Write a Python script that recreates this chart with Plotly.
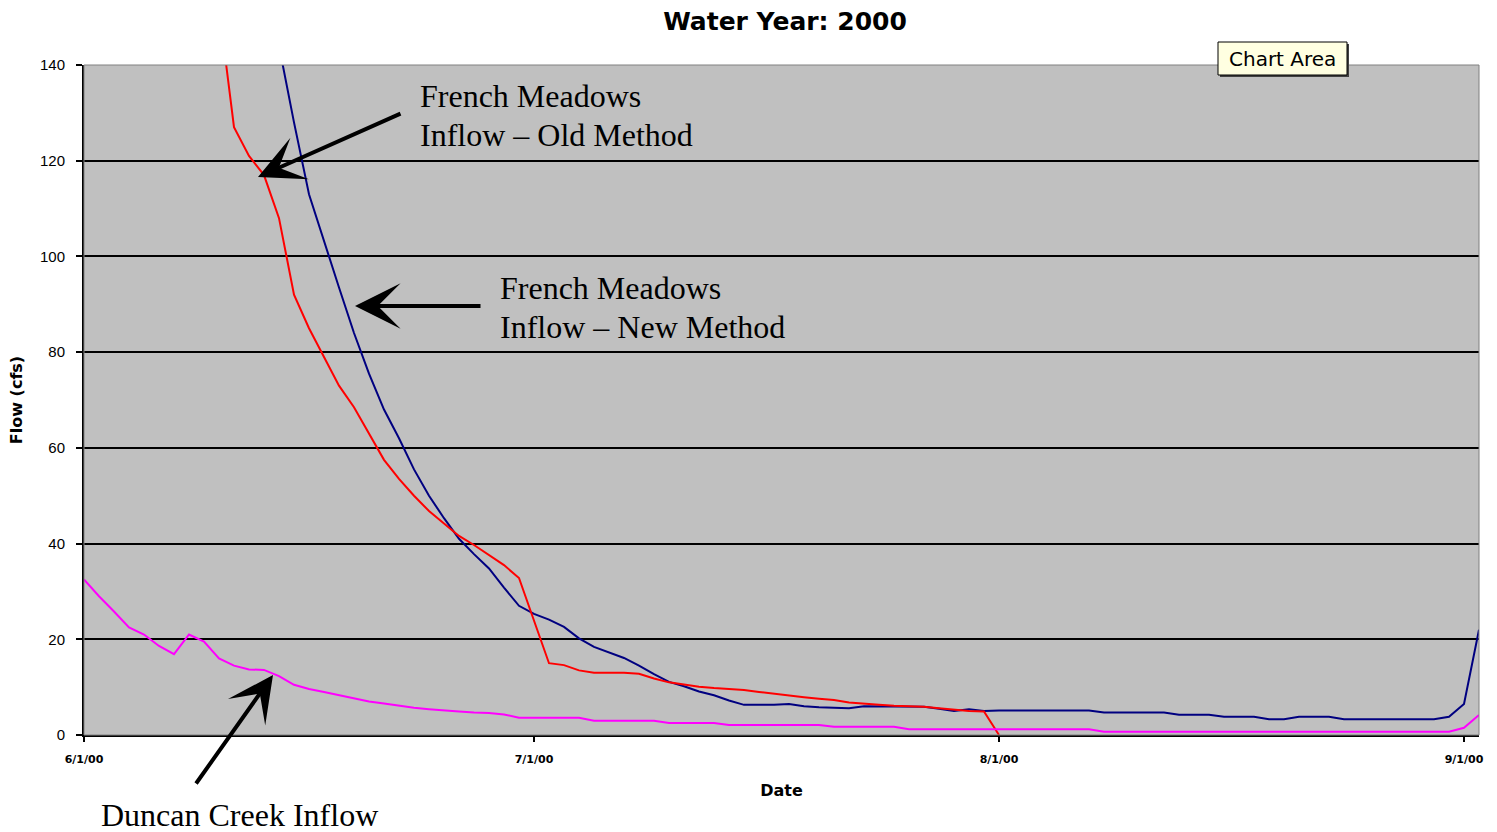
import pandas as pd
import plotly.graph_objects as go

# ---------------- data (daily values) ----------------
start_date = "2000-06-01"

old_method = [320, 300, 280, 262, 244, 226, 208, 190, 172, 152,
              127, 121, 117, 108, 92, 85, 79, 73, 68.5, 63,
              57.5, 53.5, 50, 46.8, 44.2, 41.6, 39.7, 37.6, 35.5, 32.8,
              24, 15, 14.6, 13.5, 13, 13, 13, 12.8, 11.8, 11,
              10.5, 10.1, 9.8, 9.6, 9.4, 9.0, 8.6, 8.2, 7.9, 7.6,
              7.3, 6.8, 6.5, 6.3, 6.1, 6.0, 5.9, 5.6, 5.3, 5.0,
              4.9, 0]

new_method = [360, 346, 332, 316, 300, 284, 266, 248, 230, 212,
              194, 176, 158, 144, 128, 113, 103, 93.5, 84, 75.5,
              68, 62, 55.5, 50, 45.3, 41, 37.8, 34.8, 30.8, 27,
              25.3, 24.1, 22.6, 20.2, 18.4, 17.3, 16.1, 14.5, 12.7, 11.1,
              10.2, 9.1, 8.3, 7.2, 6.3, 6.3, 6.3, 6.5, 6.0, 5.8,
              5.7, 5.6, 6.0, 6.0, 5.9, 5.9, 5.9, 5.5, 5.0, 5.4,
              5.0, 5.1, 5.1, 5.1, 5.1, 5.1, 5.1, 5.1, 4.7, 4.7,
              4.7, 4.7, 4.7, 4.25, 4.25, 4.25, 3.8, 3.8, 3.8, 3.3,
              3.3, 3.8, 3.8, 3.8, 3.3, 3.3, 3.3, 3.3, 3.3, 3.3,
              3.3, 3.8, 6.5, 22]

duncan_creek = [32.5, 29, 25.8, 22.5, 21, 18.6, 16.9, 21.0, 19.5, 16.0,
                14.5, 13.7, 13.6, 12.3, 10.5, 9.6, 9.0, 8.3, 7.6, 7.0,
                6.6, 6.1, 5.7, 5.4, 5.1, 4.9, 4.7, 4.6, 4.3, 3.6,
                3.6, 3.6, 3.6, 3.6, 3.0, 3.0, 3.0, 3.0, 3.0, 2.5,
                2.5, 2.5, 2.5, 2.1, 2.1, 2.1, 2.1, 2.1, 2.1, 2.1,
                1.7, 1.7, 1.7, 1.7, 1.7, 1.2, 1.2, 1.2, 1.2, 1.2,
                1.2, 1.2, 1.2, 1.2, 1.2, 1.2, 1.2, 1.2, 0.7, 0.7,
                0.7, 0.7, 0.7, 0.7, 0.7, 0.7, 0.7, 0.7, 0.7, 0.7,
                0.7, 0.7, 0.7, 0.7, 0.7, 0.7, 0.7, 0.7, 0.7, 0.7,
                0.7, 0.7, 1.5, 4.2]

tick_dates = ["2000-06-01", "2000-07-01", "2000-08-01", "2000-09-01"]
tick_labels = ["6/1/00", "7/1/00", "8/1/00", "9/1/00"]
y_ticks = [0, 20, 40, 60, 80, 100, 120, 140]

dates_old = pd.date_range(start_date, periods=len(old_method), freq="D")
dates_new = pd.date_range(start_date, periods=len(new_method), freq="D")
dates_dc = pd.date_range(start_date, periods=len(duncan_creek), freq="D")

# ---------------- layout geometry ----------------
W, H = 1497, 832
L, R, T, B = 84, 18, 65, 97
PW, PH = W - L - R, H - T - B


def px(x):
    return (x - L) / PW


def py(y):
    return (H - B - y) / PH


fig = go.Figure()
fig.add_trace(go.Scatter(x=dates_new, y=new_method, mode="lines",
                         line=dict(color="#000080", width=2),
                         name="French Meadows Inflow - New Method"))
fig.add_trace(go.Scatter(x=dates_old, y=old_method, mode="lines",
                         line=dict(color="#ff0000", width=2),
                         name="French Meadows Inflow - Old Method"))
fig.add_trace(go.Scatter(x=dates_dc, y=duncan_creek, mode="lines",
                         line=dict(color="#ff00ff", width=2),
                         name="Duncan Creek Inflow"))

serif = "Liberation Serif, Times New Roman, serif"
ann = []


def text_line(txt, x, y, size=32):
    ann.append(dict(text=txt, xref="paper", yref="paper", x=px(x), y=py(y),
                    xanchor="left", yanchor="middle", showarrow=False,
                    font=dict(family=serif, size=size, color="black")))


text_line("French Meadows", 418, 96)
text_line("Inflow – Old Method", 418, 135)
text_line("French Meadows", 498, 288)
text_line("Inflow – New Method", 498, 327)
text_line("Duncan Creek Inflow", 99, 815)


def arrow(head, tail):
    ann.append(dict(text="", xref="paper", yref="paper",
                    x=px(head[0]), y=py(head[1]),
                    axref="pixel", ayref="pixel",
                    ax=tail[0] - head[0], ay=tail[1] - head[1],
                    showarrow=True, arrowhead=3, arrowsize=1.9,
                    arrowwidth=4, arrowcolor="black", standoff=0))


arrow((258, 177), (402, 113))
arrow((355, 306), (482, 306))
arrow((273, 675), (195, 785))

# "Chart Area" tooltip
ann.append(dict(text="Chart Area", xref="paper", yref="paper",
                x=px(1282), y=py(59), xanchor="center", yanchor="middle",
                showarrow=False,
                font=dict(family="DejaVu Sans, Verdana, sans-serif", size=20, color="black")))

shapes = [
    dict(type="rect", xref="paper", yref="paper", x0=0, x1=1, y0=0, y1=1,
         line=dict(color="#808080", width=1), fillcolor="rgba(0,0,0,0)", layer="above"),
    dict(type="rect", xref="paper", yref="paper",
         x0=px(1220), x1=px(1349), y0=py(77), y1=py(44),
         line=dict(width=0), fillcolor="#404040", layer="above"),
    dict(type="rect", xref="paper", yref="paper",
         x0=px(1218), x1=px(1347), y0=py(75), y1=py(42),
         line=dict(color="black", width=1), fillcolor="#ffffe1", layer="above"),
]

fig.update_layout(
    width=W, height=H,
    margin=dict(l=L, r=R, t=T, b=B, pad=0),
    paper_bgcolor="white",
    plot_bgcolor="#c0c0c0",
    showlegend=False,
    title=dict(text="Water Year: 2000", x=785 / W, xanchor="center",
               y=1 - 21 / H, yanchor="middle",
               font=dict(family="DejaVu Sans, Verdana, sans-serif", size=25,
                         color="black", weight="bold")),
    xaxis=dict(type="date", range=["2000-06-01", "2000-09-02"],
               tickvals=tick_dates, ticktext=tick_labels,
               showgrid=False, zeroline=False,
               showline=True, linecolor="black", linewidth=2,
               ticks="outside", ticklen=5, tickwidth=2, tickcolor="black",
               ticklabelstandoff=8,
               tickfont=dict(family="DejaVu Sans, Verdana, sans-serif", size=11,
                             color="black", weight="bold"),
               title=dict(text="Date", standoff=20,
                          font=dict(family="DejaVu Sans, Verdana, sans-serif", size=16,
                                    color="black", weight="bold"))),
    yaxis=dict(range=[0, 140], tickvals=y_ticks,
               showgrid=True, gridcolor="black", gridwidth=1.5,
               zeroline=False,
               showline=True, linecolor="black", linewidth=2,
               ticks="outside", ticklen=6, tickwidth=2, tickcolor="black",
               ticklabelstandoff=8,
               tickfont=dict(family="Liberation Sans, Arial, sans-serif", size=15,
                             color="black"),
               title=dict(text="Flow (cfs)", standoff=13,
                          font=dict(family="DejaVu Sans, Verdana, sans-serif", size=16,
                                    color="black", weight="bold"))),
    annotations=ann,
    shapes=shapes,
)

fig.write_html("out.html",
               config={"displayModeBar": False},
               post_script="document.body.style.margin='0px';document.body.style.overflow='hidden';")
